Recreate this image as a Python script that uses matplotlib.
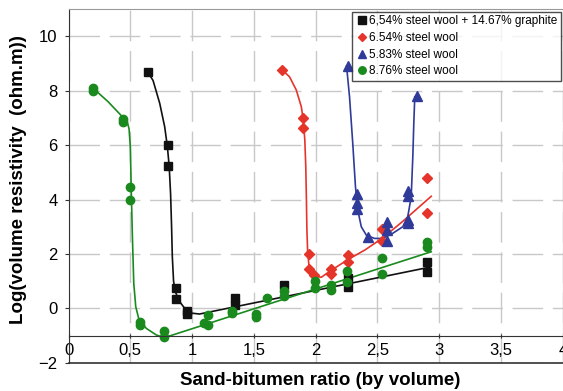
import matplotlib
matplotlib.use("Agg")
import matplotlib.pyplot as plt

plt.rcParams['font.family'] = ['Liberation Sans', 'DejaVu Sans']

# measured points
sq_x = [0.64, 0.805, 0.805, 0.87, 0.87, 0.96, 0.96, 1.35, 1.35, 1.74, 2.26, 2.26, 2.90, 2.90]
sq_y = [8.7, 6.0, 5.25, 0.76, 0.35, -0.1, -0.22, 0.37, 0.14, 0.86, 1.13, 0.79, 1.70, 1.35]

dia_x = [1.73, 1.90, 1.90, 1.95, 1.95, 1.99, 2.12, 2.12, 2.26, 2.26, 2.54, 2.54, 2.90, 2.90]
dia_y = [8.77, 7.0, 6.65, 2.0, 1.44, 1.22, 1.43, 1.26, 1.96, 1.71, 2.9, 2.49, 4.8, 3.5]

tri_x = [2.26, 2.335, 2.335, 2.335, 2.42, 2.58, 2.58, 2.58, 2.745, 2.745, 2.745, 2.745, 2.82]
tri_y = [8.9, 4.19, 3.86, 3.64, 2.63, 3.18, 2.88, 2.49, 4.32, 4.13, 3.25, 3.15, 7.8]

circ_x = [0.196, 0.196, 0.444, 0.444, 0.50, 0.50, 0.582, 0.582, 0.775, 0.775, 1.10, 1.126, 1.126,
          1.325, 1.325, 1.518, 1.518, 1.61, 1.74, 1.74, 1.994, 1.994, 2.126, 2.126, 2.257, 2.257,
          2.54, 2.54, 2.90, 2.90]
circ_y = [8.09, 8.0, 6.96, 6.86, 4.47, 3.98, -0.5, -0.61, -0.83, -1.07, -0.53, -0.25, -0.61,
          -0.09, -0.19, -0.21, -0.33, 0.37, 0.65, 0.45, 1.02, 0.74, 0.86, 0.67, 1.36, 0.97,
          1.84, 1.26, 2.43, 2.26]

# fitted curves
sq_cx = [0.64, 0.684, 0.738, 0.778, 0.80, 0.815, 0.826, 0.834, 0.84, 0.85, 0.865, 0.90, 0.95, 1.0, 1.06, 2.93]
sq_cy = [8.7, 8.38, 7.54, 6.68, 5.95, 5.2, 4.2, 3.0, 1.9, 1.0, 0.6, 0.24, -0.06, -0.18, -0.21, 1.52]

dia_cx = [1.73, 1.789, 1.843, 1.884, 1.90, 1.912, 1.92, 1.925, 1.929, 1.935, 1.945, 1.962, 1.99,
          2.045, 2.11, 2.257, 2.40, 2.54, 2.70, 2.935]
dia_cy = [8.77, 8.51, 8.03, 7.41, 6.9, 6.2, 5.2, 4.0, 2.88, 2.1, 1.6, 1.32, 1.19,
          1.14, 1.35, 1.78, 2.15, 2.58, 3.18, 4.12]

tri_cx = [2.25, 2.274, 2.30, 2.322, 2.341, 2.369, 2.41, 2.476, 2.543, 2.624, 2.705, 2.745,
          2.773, 2.786, 2.794, 2.802]
tri_cy = [8.91, 7.78, 6.07, 4.47, 3.61, 3.0, 2.69, 2.57, 2.57, 2.76, 3.0, 3.37,
          4.1, 5.57, 6.8, 7.78]

circ_cx = [0.20, 0.32, 0.441, 0.475, 0.49, 0.50, 0.509, 0.517, 0.528, 0.544, 0.571, 0.63, 0.71, 0.775, 2.935]
circ_cy = [8.09, 7.6, 7.02, 6.85, 6.6, 5.94, 4.1, 2.63, 0.92, 0.06, -0.43, -0.74, -0.98, -1.08, 2.08]

labels = ['6,54% steel wool + 14.67% graphite', '6.54% steel wool',
          '5.83% steel wool', '8.76% steel wool']

black = '#111111'
red = '#e5352b'
blue = '#2f3a99'
green = '#1a8a1e'

fig = plt.figure(figsize=(5.63, 3.91), dpi=100)
ax = fig.add_axes([0.1217, 0.0724, 0.878, 0.904])

ax.plot(sq_cx, sq_cy, color=black, lw=1.2)
ax.plot(dia_cx, dia_cy, color=red, lw=1.2)
ax.plot(tri_cx, tri_cy, color=blue, lw=1.2)
ax.plot(circ_cx, circ_cy, color=green, lw=1.2)

ax.plot(sq_x, sq_y, 's', color=black, ms=6, ls='none', label=labels[0])
ax.plot(dia_x, dia_y, 'D', color=red, ms=5, ls='none', label=labels[1])
ax.plot(tri_x, tri_y, '^', color=blue, ms=6.5, ls='none', label=labels[2])
ax.plot(circ_x, circ_y, 'o', color=green, ms=6, ls='none', label=labels[3])

ax.set_xlim(0, 4)
ax.set_ylim(-2, 11)
ax.set_xticks([0, 0.5, 1, 1.5, 2, 2.5, 3, 3.5, 4])
ax.set_xticklabels(['0', '0,5', '1', '1,5', '2', '2,5', '3', '3,5', '4'])
ax.set_yticks([-2, 0, 2, 4, 6, 8, 10])
ax.tick_params(axis='both', labelsize=12, length=3, width=0.8, color='#333333')
ax.tick_params(axis='x', direction='inout', pad=4)
ax.tick_params(axis='y', pad=5)

ax.grid(True, color='#c8c8c8', lw=1, dashes=(22, 7))
ax.set_axisbelow(True)

ax.spines['bottom'].set_position(('data', -1))
ax.spines['bottom'].set_color('#333333')
ax.spines['left'].set_color('#333333')
ax.spines['top'].set_color('#999999')
ax.spines['right'].set_color('#999999')
ax.axhline(-2, color='#333333', lw=1.2, clip_on=False)

leg = ax.legend(loc='upper right', bbox_to_anchor=(0.996, 0.970), bbox_transform=fig.transFigure,
                fontsize=8.5, frameon=True, fancybox=False, borderaxespad=0,
                handletextpad=0.1, handlelength=1.0, labelspacing=0.4, borderpad=0.3,
                markerscale=0.9)
leg.get_frame().set_edgecolor('#222222')
leg.get_frame().set_linewidth(1.0)

fig.text(0.568, 0.028, 'Sand-bitumen ratio (by volume)', ha='center', va='center',
         fontsize=13.5, fontweight='bold')
fig.text(0.032, 0.542, 'Log(volume resistivity  (ohm.m))', ha='center', va='center',
         rotation=90, fontsize=13.5, fontweight='bold')

plt.savefig('out.png', dpi=100)
